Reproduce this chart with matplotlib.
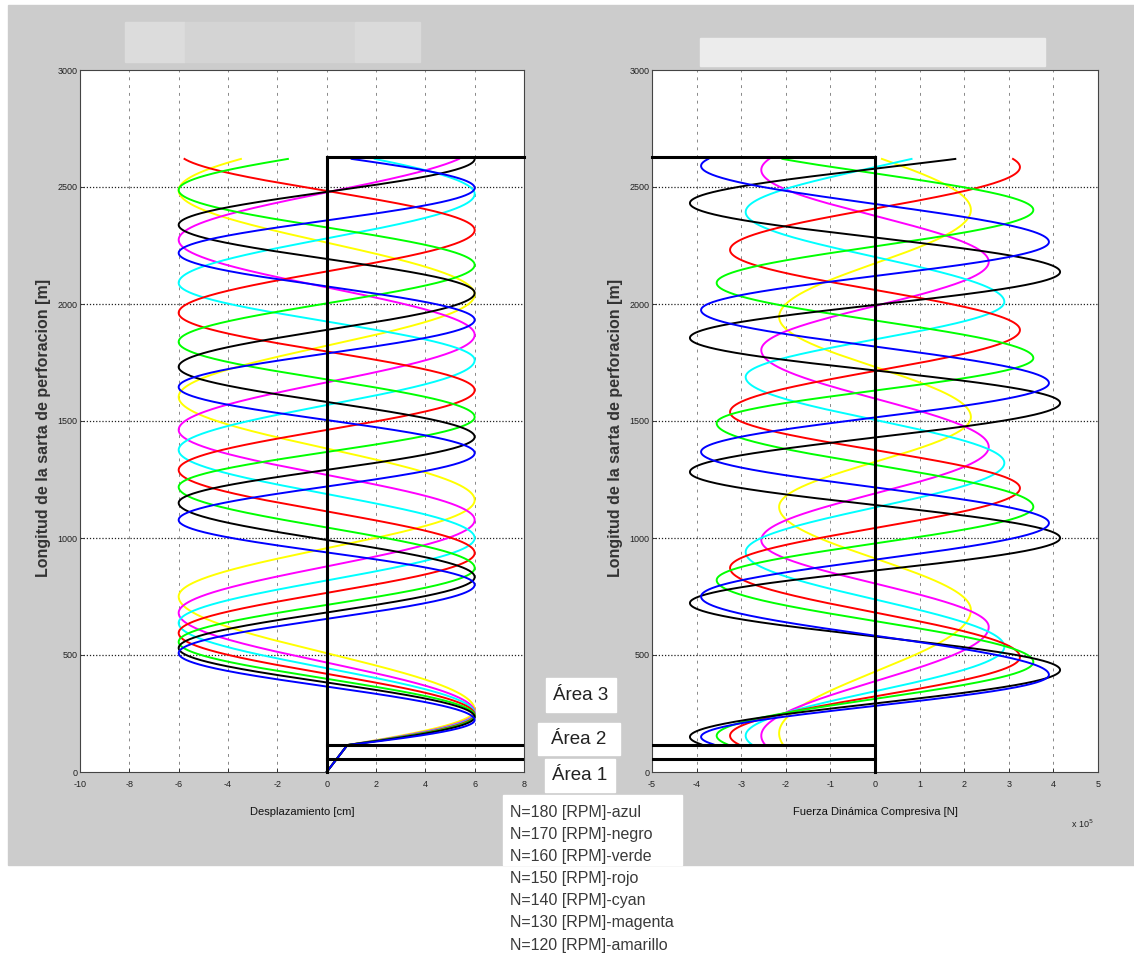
import numpy as np
import matplotlib
matplotlib.use("Agg")
import matplotlib.pyplot as plt
from matplotlib.patches import Rectangle

# ---------------- data ----------------
series_labels = ["N=180 [RPM]-azul", "N=170 [RPM]-negro", "N=160 [RPM]-verde",
                 "N=150 [RPM]-rojo", "N=140 [RPM]-cyan", "N=130 [RPM]-magenta",
                 "N=120 [RPM]-amarillo"]
series_colors = ["#0000ff", "#000000", "#00ff00", "#ff0000", "#00ffff", "#ff00ff", "#ffff00"]

# Displacement: depths [m] of successive extrema (+6, -6, +6, ...)
disp_amp = 6.0
disp_blue = [222, 508, 800, 1077, 1363, 1645, 1932, 2218, 2496]
disp_black = [235, 530, 833, 1150, 1432, 1731, 2047, 2338, 2620]
disp_green = [240, 556, 872, 1218, 1517, 1838, 2167, 2487]
disp_red = [245, 594, 936, 1291, 1632, 1962, 2316, 2650]
disp_cyan = [250, 637, 1000, 1376, 1760, 2090, 2470]
disp_magenta = [255, 680, 1077, 1462, 1868, 2274]
disp_yellow = [265, 750, 1162, 1603, 2040, 2485]

# Force: amplitudes [x10^5 N] and depths of successive extrema (min, max, min, ...)
force_amp = [3.9, 4.15, 3.55, 3.25, 2.9, 2.55, 2.15]
force_blue = [150, 415, 750, 1064, 1368, 1662, 1974, 2265, 2590]
force_black = [150, 436, 722, 1000, 1282, 1577, 1855, 2137, 2431]
force_green = [155, 470, 820, 1133, 1491, 1769, 2090, 2402]
force_red = [155, 491, 872, 1213, 1538, 1889, 2231, 2585]
force_cyan = [155, 535, 940, 1321, 1688, 2009, 2393]
force_magenta = [155, 620, 991, 1389, 1803, 2180, 2573]
force_yellow = [165, 692, 1133, 1517, 1945, 2402]

area1_top = 56       # m
area2_top = 115      # m
string_length = 2630 # m
curve_end = 2620     # m

disp_lists = [disp_blue, disp_black, disp_green, disp_red, disp_cyan, disp_magenta, disp_yellow]
force_lists = [force_blue, force_black, force_green, force_red, force_cyan, force_magenta, force_yellow]

W, H = 1134, 957
def fx(px):
    return px / W
def fy(py):
    return 1 - py / H

def phase(y, ay, aphi):
    ay = np.asarray(ay, float)
    aphi = np.asarray(aphi, float)
    p = np.interp(y, ay, aphi)
    s_hi = (aphi[-1] - aphi[-2]) / (ay[-1] - ay[-2])
    s_lo = (aphi[1] - aphi[0]) / (ay[1] - ay[0])
    p = np.where(y > ay[-1], aphi[-1] + (y - ay[-1]) * s_hi, p)
    p = np.where(y < ay[0], aphi[0] + (y - ay[0]) * s_lo, p)
    return p

SANS = ["Liberation Sans", "DejaVu Sans"]

fig = plt.figure(figsize=(W / 100, H / 100), dpi=100, facecolor="white")
fig.patches.append(Rectangle((fx(8), fy(865)), fx(W - 8), (865 - 5) / H,
                             transform=fig.transFigure, color="#cccccc", zorder=-10))
# obscured title areas
for (x0, x1, c) in [(125, 185, "#dcdcdc"), (185, 355, "#d4d4d4"), (355, 420, "#dadada")]:
    fig.patches.append(Rectangle((fx(x0), fy(62)), (x1 - x0) / W, 40 / H,
                                 transform=fig.transFigure, color=c, zorder=-5))
fig.patches.append(Rectangle((fx(700), fy(66)), 345 / W, 28 / H,
                             transform=fig.transFigure, color="#ececec", zorder=-5))

tick_font = dict(family=SANS, size=6.5)

ax1 = fig.add_axes([fx(80), fy(772), 444 / W, 702 / H])
ax2 = fig.add_axes([fx(652), fy(772), 446 / W, 702 / H])

for ax, xlim, xt, lx in [(ax1, (-10, 8), np.arange(-10, 9, 2), (51 - 80) / 444),
                         (ax2, (-5, 5), np.arange(-5, 6, 1), (623 - 652) / 446)]:
    ax.set_facecolor("white")
    ax.set_xlim(*xlim)
    ax.set_ylim(0, 3000)
    ax.set_xticks(xt)
    ax.set_yticks(np.arange(0, 3001, 500))
    ax.set_xticklabels([str(v) for v in xt], fontdict=tick_font)
    ax.set_yticklabels([str(v) for v in range(0, 3001, 500)], fontdict=tick_font)
    ax.tick_params(direction="in", length=3, width=0.6, colors="#222222")
    ax.tick_params(axis="x", pad=6)
    ax.tick_params(axis="y", pad=2)
    for v in xt[1:-1]:
        ax.axvline(v, color="#888888", lw=0.7, ls=(0, (3, 5)), zorder=0)
    for v in range(500, 3000, 500):
        ax.axhline(v, color="#222222", lw=0.9, ls=(0, (1, 1.5)), zorder=0)
    for sp in ax.spines.values():
        sp.set_color("#444444")
        sp.set_linewidth(0.8)
    ax.set_ylabel("Longitud de la sarta de perforacion [m]", fontsize=11.5,
                  fontweight="bold", color="#333333", family=SANS)
    ax.yaxis.set_label_coords(lx, 0.49)

# ---------------- displacement curves ----------------
y_disp = np.linspace(0, curve_end, 3000)
order = list(range(len(series_colors)))[::-1]
for i in order:
    ext = disp_lists[i]
    ay = [0, area2_top] + ext
    aphi = [0, 0.14] + [np.pi / 2 + k * np.pi for k in range(len(ext))]
    xv = disp_amp * np.sin(phase(y_disp, ay, aphi))
    ax1.plot(xv, y_disp, color=series_colors[i], lw=1.4, zorder=2)

# ---------------- force curves ----------------
y_force = np.linspace(118, curve_end, 3000)
for i in order:
    ext = force_lists[i]
    aphi = [k * np.pi for k in range(len(ext))]
    fv = -force_amp[i] * np.cos(phase(y_force, ext, aphi))
    ax2.plot(fv, y_force, color=series_colors[i], lw=1.4, zorder=2)

# ---------------- area boundaries ----------------
lw_b = 2.2
ax1.plot([0, 0], [0, string_length], color="black", lw=lw_b, zorder=4, clip_on=False)
ax1.plot([0, 8], [string_length, string_length], color="black", lw=lw_b, zorder=4, clip_on=False)
ax1.plot([0, 8], [area1_top, area1_top], color="black", lw=lw_b, zorder=4)
ax1.plot([0, 8], [area2_top, area2_top], color="black", lw=lw_b, zorder=4)
ax2.plot([0, 0], [0, string_length], color="black", lw=lw_b, zorder=4, clip_on=False)
ax2.plot([-5, 0], [string_length, string_length], color="black", lw=lw_b, zorder=4, clip_on=False)
ax2.plot([-5, 0], [area1_top, area1_top], color="black", lw=lw_b, zorder=4)
ax2.plot([-5, 0], [area2_top, area2_top], color="black", lw=lw_b, zorder=4)

# axis labels
fig.text(fx(302), fy(812), "Desplazamiento [cm]", ha="center", va="center",
         family=SANS, fontsize=8, color="#111111")
fig.text(fx(875), fy(812), "Fuerza Dinámica Compresiva [N]", ha="center", va="center",
         family=SANS, fontsize=8, color="#111111")
fig.text(fx(1082), fy(824), r"x 10$^{5}$", ha="center", va="center",
         family=SANS, fontsize=6.5, color="#222222")

# Área boxes
for (x0, y0, x1, y1, txt) in [(546, 678, 616, 712, "Área 3"),
                              (538, 723, 620, 755, "Área 2"),
                              (545, 759, 615, 792, "Área 1")]:
    fig.patches.append(Rectangle((fx(x0), fy(y1)), (x1 - x0) / W, (y1 - y0) / H,
                                 transform=fig.transFigure, color="white", zorder=5))
    fig.text(fx((x0 + x1) / 2), fy((y0 + y1) / 2), txt, ha="center", va="center",
             family=SANS, fontsize=13.5, color="#222222", zorder=6)

# legend text
fig.patches.append(Rectangle((fx(503), fy(865)), 179 / W, 70 / H,
                             transform=fig.transFigure, color="white", zorder=5))
for k, lab in enumerate(series_labels):
    fig.text(fx(510), fy(812 + 22.2 * k), lab, ha="left", va="center",
             family=SANS, fontsize=11.5, color="#3a3a3a", zorder=6)

fig.savefig("out.png", dpi=100, facecolor="white")
